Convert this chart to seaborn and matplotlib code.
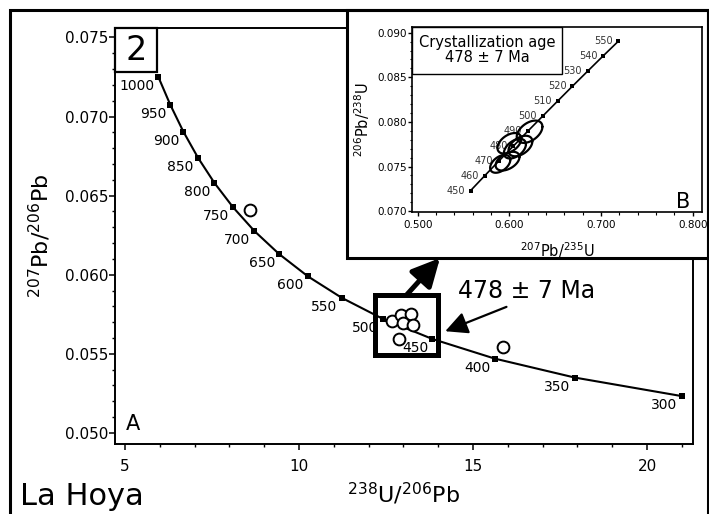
import numpy as np
import pandas as pd
import matplotlib
matplotlib.use("Agg")
import matplotlib.pyplot as plt
import matplotlib.ticker as mticker
from matplotlib.patches import Rectangle
import seaborn as sns

# ---- Tera-Wasserburg concordia nodes (ages in Ma) ----
tw_ages = [1000, 950, 900, 850, 800, 750, 700, 650, 600, 550, 500, 450, 400, 350, 300]
tw_u238_pb206 = [5.959, 6.298, 6.674, 7.095, 7.569, 8.105, 8.718, 9.426, 10.252,
                 11.228, 12.399, 13.831, 15.621, 17.923, 20.992]
tw_pb207_pb206 = [0.07249, 0.07075, 0.06905, 0.06740, 0.06580, 0.06426, 0.06276,
                  0.06131, 0.05990, 0.05854, 0.05722, 0.05594, 0.05470, 0.05350, 0.05233]

# ---- zircon spot analyses ----
zr_u238_pb206 = [8.58, 12.68, 12.94, 13.23, 12.99, 13.28, 12.87, 15.86]
zr_pb207_pb206 = [0.06412, 0.05708, 0.05743, 0.05751, 0.05698, 0.05682, 0.05595, 0.05544]

# ---- Wetherill concordia nodes (ages in Ma) ----
w_ages = [450, 460, 470, 480, 490, 500, 510, 520, 530, 540, 550]
w_pb207_u235 = [0.5577, 0.5731, 0.5886, 0.6044, 0.6202, 0.6363, 0.6525, 0.6688,
                0.6853, 0.7020, 0.7189]
w_pb206_u238 = [0.07230, 0.07397, 0.07563, 0.07730, 0.07898, 0.08065, 0.08233,
                0.08401, 0.08569, 0.08738, 0.08906]

# ---- error ellipses of the concordant analyses (2 sigma) ----
el_x = [0.622, 0.612, 0.600, 0.606, 0.598, 0.590]
el_y = [0.0789, 0.0773, 0.0776, 0.0770, 0.0756, 0.0753]
el_sx = [0.014, 0.013, 0.013, 0.012, 0.013, 0.011]
el_sy = [0.00125, 0.00115, 0.00115, 0.00110, 0.00105, 0.00100]
el_rho = [0.45, 0.45, 0.45, 0.45, 0.45, 0.45]

sns.set_theme(style="ticks")
plt.rcParams["font.family"] = ["DejaVu Sans"]
plt.rcParams["mathtext.fontset"] = "dejavusans"

W, H = 709, 514
fig = plt.figure(figsize=(W / 100, H / 100), dpi=100)
fig.patch.set_facecolor("white")


def fx(px):
    return px / W


def fy(py):
    return 1 - py / H


# ------------------------------------------------------------------ main plot
ax = fig.add_axes([fx(115), fy(444), fx(693) - fx(115), fy(28) - fy(444)])
ax.set_zorder(0)

tw = pd.DataFrame({"x": tw_u238_pb206, "y": tw_pb207_pb206, "age": tw_ages})
sns.lineplot(data=tw, x="x", y="y", sort=False, estimator=None, color="black",
             lw=1.5, marker="s", markersize=5, markeredgewidth=0, ax=ax, zorder=3)
for a, xv, yv in zip(tw_ages, tw_u238_pb206, tw_pb207_pb206):
    ax.annotate(str(a), (xv, yv), xytext=(-3, -6.5), textcoords="offset points",
                ha="right", va="center", fontsize=10, color="black", zorder=2)

zr = pd.DataFrame({"x": zr_u238_pb206, "y": zr_pb207_pb206})
sns.scatterplot(data=zr, x="x", y="y", s=72, facecolor="white", edgecolor="black",
                linewidth=1.4, ax=ax, zorder=4)

ax.set_xlim(4.71, 21.32)
ax.set_ylim(0.0493, 0.0756)
ax.xaxis.set_major_locator(mticker.MultipleLocator(5))
ax.xaxis.set_minor_locator(mticker.MultipleLocator(1))
ax.yaxis.set_major_locator(mticker.MultipleLocator(0.005))
ax.yaxis.set_minor_locator(mticker.MultipleLocator(0.001))
ax.yaxis.set_major_formatter(mticker.FormatStrFormatter("%.3f"))
ax.tick_params(which="major", direction="out", length=4.5, width=1.1, labelsize=11,
               color="black", labelcolor="black")
ax.tick_params(which="minor", direction="out", length=2.5, width=1.0, color="black")
ax.tick_params(axis="y", which="major", pad=0.5)
ax.tick_params(axis="x", which="major", pad=6)
for s in ax.spines.values():
    s.set_visible(True)
    s.set_linewidth(1.4)
    s.set_color("black")

ax.set_xlabel("$^{238}$U/$^{206}$Pb", fontsize=16, color="black")
ax.set_ylabel("$^{207}$Pb/$^{206}$Pb", fontsize=16, color="black")
ax.xaxis.set_label_coords(0.5, -0.088)
ax.yaxis.set_label_coords(-0.108, 0.5)

# sample number tag and panel letter
ax.add_patch(Rectangle((0, 1 - 0.1058), 0.0727, 0.1058, transform=ax.transAxes,
                       facecolor="white", edgecolor="black", lw=1.6, zorder=6,
                       clip_on=False))
ax.text(0.0363, 1 - 0.053, "2", transform=ax.transAxes, ha="center", va="center",
        fontsize=24, color="black", zorder=7)
ax.text(0.018, 0.033, "A", transform=ax.transAxes, ha="left", va="baseline",
        fontsize=15, color="black")

# box around the concordant cluster
ax.add_patch(Rectangle((12.175, 0.05492), 1.811, 0.003795, facecolor="none",
                       edgecolor="black", lw=3.6, zorder=5))
# arrow from the box to the inset
ax.annotate("", xy=(440, H - 258), xycoords="figure pixels",
            xytext=(13.10, 0.05875), textcoords="data",
            arrowprops=dict(arrowstyle="-|>", lw=3.6, color="black",
                            mutation_scale=42, shrinkA=0, shrinkB=0),
            zorder=5, annotation_clip=False)
# age label with pointer
ax.annotate("", xy=(14.2, 0.05643), xytext=(15.96, 0.05797),
            arrowprops=dict(arrowstyle="-|>", lw=1.6, color="black",
                            mutation_scale=34, shrinkA=0, shrinkB=0), zorder=5)
ax.text(14.56, 0.0590, "478 ± 7 Ma", ha="left", va="center", fontsize=17,
        color="black", zorder=5)

# ------------------------------------------------------------------ inset frame
fig.add_artist(Rectangle((fx(347), fy(258)), fx(708) - fx(347), fy(10) - fy(258),
                         transform=fig.transFigure, facecolor="white",
                         edgecolor="black", lw=2.2, zorder=1))

axi = fig.add_axes([fx(412), fy(212), fx(702) - fx(412), fy(26.5) - fy(212)])
axi.set_zorder(2)

wc = pd.DataFrame({"x": w_pb207_u235, "y": w_pb206_u238})
sns.lineplot(data=wc, x="x", y="y", sort=False, estimator=None, color="black",
             lw=1.2, marker="s", markersize=3.5, markeredgewidth=0, ax=axi, zorder=3)
for a, xv, yv in zip(w_ages, w_pb207_u235, w_pb206_u238):
    axi.annotate(str(a), (xv, yv), xytext=(-4, 0), textcoords="offset points",
                 ha="right", va="center", fontsize=7, color="#333333", zorder=2)

# error ellipses from centres, 2-sigma half widths and error correlation
th = np.linspace(0, 2 * np.pi, 120)
rows = []
for i, (cx, cy, sx, sy, r) in enumerate(zip(el_x, el_y, el_sx, el_sy, el_rho)):
    ex = cx + sx * np.cos(th)
    ey = cy + sy * (r * np.cos(th) + np.sqrt(1 - r ** 2) * np.sin(th))
    rows.append(pd.DataFrame({"x": ex, "y": ey, "id": i}))
ell = pd.concat(rows, ignore_index=True)
sns.lineplot(data=ell, x="x", y="y", units="id", estimator=None, sort=False,
             color="black", lw=1.6, ax=axi, zorder=4)

axi.set_xlim(0.4938, 0.8100)
axi.set_ylim(0.0699, 0.0907)
axi.xaxis.set_major_locator(mticker.MultipleLocator(0.1))
axi.xaxis.set_minor_locator(mticker.MultipleLocator(0.02))
axi.yaxis.set_major_locator(mticker.MultipleLocator(0.005))
axi.yaxis.set_minor_locator(mticker.MultipleLocator(0.001))
axi.xaxis.set_major_formatter(mticker.FormatStrFormatter("%.3f"))
axi.yaxis.set_major_formatter(mticker.FormatStrFormatter("%.3f"))
axi.tick_params(which="major", direction="out", length=3, width=1.0, labelsize=7.5,
                color="black", labelcolor="black")
axi.tick_params(which="minor", direction="out", length=1.8, width=0.8, color="black")
axi.tick_params(axis="y", which="major", pad=0.5)
axi.tick_params(axis="x", which="major", pad=3)
for s in axi.spines.values():
    s.set_visible(True)
    s.set_linewidth(1.2)
    s.set_color("black")
axi.set_xlabel("$^{207}$Pb/$^{235}$U", fontsize=10.5, color="black")
axi.set_ylabel("$^{206}$Pb/$^{238}$U", fontsize=10.5, color="black")
axi.xaxis.set_label_coords(0.5, -0.15)
axi.yaxis.set_label_coords(-0.137, 0.5)

axi.add_patch(Rectangle((0, 0.744), 0.517, 0.256, transform=axi.transAxes,
                        facecolor="white", edgecolor="black", lw=1.0, zorder=6))
axi.text(0.2586, 0.872, "Crystallization age\n478 ± 7 Ma", transform=axi.transAxes,
         ha="center", va="center", fontsize=10.5, color="black", linespacing=1.0,
         zorder=7)
axi.text(0.959, 0.022, "B", transform=axi.transAxes, ha="right", va="baseline",
         fontsize=15, color="black")

# ------------------------------------------------------------------ outer frame
fig.add_artist(Rectangle((fx(10), fy(540)), fx(708) - fx(10), fy(10) - fy(540),
                         transform=fig.transFigure, facecolor="none",
                         edgecolor="black", lw=2.2, zorder=5))

fig.text(fx(20), fy(505), "La Hoya", ha="left", va="baseline", fontsize=22,
         color="black")

fig.savefig("out.png", dpi=100, facecolor="white")
